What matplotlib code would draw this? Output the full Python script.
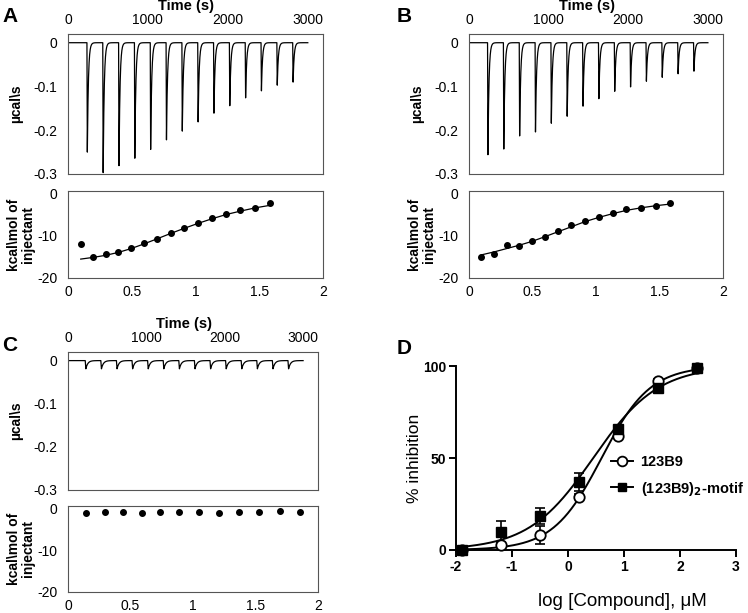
import numpy as np
import matplotlib
matplotlib.use("Agg")
import matplotlib.pyplot as plt

plt.rcParams['font.family'] = ['Liberation Sans', 'DejaVu Sans']
plt.rcParams['axes.unicode_minus'] = False

# injection times (s) and peak heights (ucal/s)
inj_A = [237, 435, 633, 831, 1029, 1227, 1425, 1623, 1821, 2019, 2217, 2415, 2613, 2811]
peak_A = [-0.250, -0.297, -0.281, -0.264, -0.244, -0.222, -0.202,
          -0.181, -0.161, -0.144, -0.126, -0.110, -0.097, -0.090]
inj_B = [233, 432, 631, 830, 1029, 1228, 1427, 1626, 1825, 2024, 2223, 2422, 2621, 2820]
peak_B = [-0.256, -0.243, -0.213, -0.204, -0.184, -0.168, -0.145,
          -0.128, -0.111, -0.101, -0.088, -0.079, -0.071, -0.065]
inj_C = [220, 419, 618, 817, 1016, 1215, 1414, 1613, 1812, 2011, 2210, 2409, 2608, 2807]
peak_C = [-0.019, -0.019, -0.019, -0.019, -0.019, -0.019, -0.019,
          -0.019, -0.019, -0.019, -0.019, -0.019, -0.019, -0.019]

# integrated heats (kcal/mol of injectant) vs molar ratio
ratio_A = [0.10, 0.197, 0.296, 0.396, 0.495, 0.595, 0.697, 0.805, 0.91, 1.02, 1.13, 1.24, 1.35, 1.47, 1.586]
heat_A = [-11.9, -15.1, -14.4, -13.7, -12.9, -11.7, -10.7, -9.4, -8.2, -7.0, -5.8, -4.8, -3.7, -3.4, -2.2]
fit_A = [-15.5, -15.1, -14.6, -13.9, -13.0, -11.9, -10.7, -9.4, -8.2, -7.0, -5.9, -4.9, -4.1, -3.3, -2.7]
ratio_B = [0.097, 0.197, 0.296, 0.396, 0.495, 0.595, 0.70, 0.807, 0.912, 1.02, 1.13, 1.24, 1.355, 1.47, 1.586]
heat_B = [-14.9, -14.2, -12.1, -12.3, -11.3, -10.3, -8.8, -7.5, -6.4, -5.5, -4.6, -3.6, -3.3, -2.8, -2.2]
fit_B = [-14.5, -13.8, -13.0, -12.2, -11.3, -10.2, -9.0, -7.8, -6.6, -5.6, -4.7, -3.9, -3.3, -2.8, -2.4]
ratio_C = [0.146, 0.293, 0.44, 0.59, 0.74, 0.89, 1.05, 1.21, 1.37, 1.53, 1.70, 1.86]
heat_C = [-1.0, -0.7, -0.8, -0.9, -0.7, -0.8, -0.7, -0.9, -0.7, -0.7, -0.6, -0.8]

# panel D: dose response
logc = [-1.9, -1.2, -0.5, 0.2, 0.9, 1.6, 2.3]
inh_123 = [0, 2.5, 8, 29, 62, 92, 99]
err_123 = [0, 0.8, 5, 1.5, 1, 1, 0.5]
inh_motif = [0, 10, 18.5, 37, 66, 88, 99]
err_motif = [0, 5.5, 4.5, 5, 1, 1, 0.5]
# fitted 4PL parameters (logIC50, hill)
fit_123 = (0.6, 1.0)
fit_motif = (0.45, 0.75)

W, H = 748, 613


def trace(inj, peaks, tau, drop):
    t = np.arange(0, 3001, 1.0)
    y = np.zeros_like(t)
    for t0, h in zip(inj, peaks):
        rise = (t >= t0) & (t < t0 + drop)
        y[rise] += h * (t[rise] - t0) / drop
        dec = t >= t0 + drop
        y[dec] += h * np.exp(-(t[dec] - t0 - drop) / tau)
    return t, y


def itc_panel(pos_top, pos_bot, inj, peaks, tau, drop, ratio, heat, fit=None):
    ax = fig.add_axes(pos_top)
    t, y = trace(inj, peaks, tau, drop)
    ax.plot(t, y, color='black', lw=0.9)
    ax.set_xlim(0, 3190)
    ax.set_ylim(-0.3, 0.02)
    ax.xaxis.tick_top()
    ax.set_xticks([0, 1000, 2000, 3000])
    ax.set_yticks([0, -0.1, -0.2, -0.3])
    ax.set_yticklabels(['0', '-0.1', '-0.2', '-0.3'])
    ax.tick_params(length=0, labelsize=10, pad=7.5)
    ax.tick_params(axis='x', pad=5)
    ax.text(1480, 1.2, 'Time (s)', transform=ax.get_xaxis_transform(),
            ha='center', va='center', fontsize=10.5, fontweight='bold')
    for s in ax.spines.values():
        s.set_color('#555555')

    ax2 = fig.add_axes(pos_bot)
    if fit is not None:
        ax2.plot(ratio, fit, color='black', lw=0.9)
    ax2.plot(ratio, heat, 'o', color='black', ms=4)
    ax2.set_xlim(0, 2)
    ax2.set_ylim(-20, 0.7)
    ax2.set_xticks([0, 0.5, 1, 1.5, 2])
    ax2.set_xticklabels(['0', '0.5', '1', '1.5', '2'])
    ax2.set_yticks([0, -10, -20])
    ax2.tick_params(length=0, labelsize=10, pad=7.5)
    ax2.tick_params(axis='x', pad=5)
    for s in ax2.spines.values():
        s.set_color('#555555')

    # y labels placed relative to the axes' left edge
    left = pos_top[0] * W
    ytop = (1 - pos_top[1] - pos_top[3] / 2) * H
    ybot = (1 - pos_bot[1] - pos_bot[3] / 2) * H
    fig.text((left - 52) / W, 1 - ytop / H, 'µcal\\s', rotation=90, fontsize=10,
             fontweight='bold', ha='center', va='center')
    fig.text((left - 47) / W, 1 - ybot / H, 'kcal\\mol of\ninjectant', rotation=90,
             fontsize=10, fontweight='bold', ha='center', va='center', linespacing=1.0)
    return ax, ax2


fig = plt.figure(figsize=(W / 100, H / 100), dpi=100)

itc_panel([0.0909, 0.7162, 0.3409, 0.2284], [0.0909, 0.5465, 0.3409, 0.1419],
          inj_A, peak_A, 13, 5, ratio_A, heat_A, fit_A)
itc_panel([0.627, 0.7162, 0.3396, 0.2284], [0.627, 0.5465, 0.3396, 0.1419],
          inj_B, peak_B, 13, 5, ratio_B, heat_B, fit_B)
itc_panel([0.0909, 0.2007, 0.3342, 0.2251], [0.0909, 0.0343, 0.3342, 0.1403],
          inj_C, peak_C, 25, 8, ratio_C, heat_C)

# panel D
axd = fig.add_axes([0.6096, 0.1028, 0.3743, 0.3], )
xs = np.linspace(logc[0], logc[-1], 200)
for (lic, hill) in [fit_123, fit_motif]:
    axd.plot(xs, 100 / (1 + 10 ** ((lic - xs) * hill)), color='black', lw=1.4, clip_on=False)
axd.errorbar(logc, inh_123, yerr=err_123, fmt='none', ecolor='black', elinewidth=1.2,
             capsize=3.5, capthick=1.2, clip_on=False)
axd.errorbar(logc, inh_motif, yerr=err_motif, fmt='none', ecolor='black', elinewidth=1.2,
             capsize=3.5, capthick=1.2, clip_on=False)
axd.plot(logc, inh_123, 'o', ms=7.5, mfc='white', mec='black', mew=1.3, clip_on=False, zorder=4)
axd.plot(logc, inh_motif, 's', ms=6.5, color='black', clip_on=False, zorder=4)
axd.set_xlim(-2, 3)
axd.set_ylim(0, 100)
axd.set_xticks([-2, -1, 0, 1, 2, 3])
axd.set_yticks([0, 50, 100])
axd.spines['top'].set_visible(False)
axd.spines['right'].set_visible(False)
axd.spines['left'].set_linewidth(1.4)
axd.spines['bottom'].set_linewidth(1.4)
axd.tick_params(direction='out', length=5, width=1.4, labelsize=10, pad=2)
for lab in axd.get_xticklabels() + axd.get_yticklabels():
    lab.set_fontweight('bold')
axd.set_ylabel('% inhibition', fontsize=12.5, labelpad=1)

h1, = axd.plot([], [], '-o', color='black', ms=7, mfc='white', mec='black', mew=1.3, lw=1.4)
h2, = axd.plot([], [], '-s', color='black', ms=6, lw=1.4)
axd.legend([h1, h2], ['123B9', '(123B9)$_\\mathbf{2}$-motif'], loc='center left',
           bbox_to_anchor=(0.555, 0.4), frameon=False, handlelength=1.5,
           prop={'weight': 'bold', 'size': 10.5}, labelspacing=0.7, handletextpad=0.5,
           borderaxespad=0, borderpad=0)

fig.text(622 / W, 1 - 602 / H, 'log [Compound], μM', fontsize=13.5, ha='center', va='center')

# panel letters
for lab, x, y in [('A', 10, 16), ('B', 404, 16), ('C', 10, 345), ('D', 404, 348)]:
    fig.text(x / W, 1 - y / H, lab, fontsize=15, fontweight='bold', va='center', ha='center')

fig.savefig('out.png', dpi=100)
